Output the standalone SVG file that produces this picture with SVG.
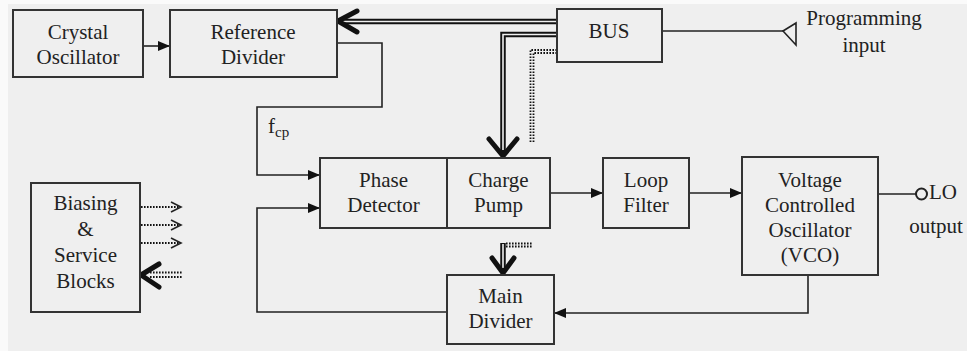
<svg xmlns="http://www.w3.org/2000/svg" width="967" height="351" viewBox="0 0 967 351" font-family="Liberation Serif, Times New Roman, serif">
<defs>
<style>
.box{fill:#efefef;stroke:#333;stroke-width:2}
.t{font-size:21px;fill:#222;text-anchor:middle}
.ln{fill:none;stroke:#222;stroke-width:1.6}
.bus{fill:none;stroke:#111;stroke-width:5.5}
.busw{fill:none;stroke:#efefef;stroke-width:1.6}
.chev{fill:none;stroke:#111;stroke-width:5;stroke-linecap:round;stroke-linejoin:round}
.dot{fill:none;stroke:#111;stroke-width:1.8;stroke-dasharray:1.6 1.4}
.open{fill:none;stroke:#222;stroke-width:1.6}
</style>
<marker id="ah" viewBox="0 0 12 10" markerUnits="userSpaceOnUse" markerWidth="12" markerHeight="10" refX="12" refY="5" orient="auto">
<path d="M0,0 L12,5 L0,10 z" fill="#111"/>
</marker>
</defs>
<rect x="0" y="0" width="967" height="351" fill="#fafafa"/>
<rect x="8" y="4" width="959" height="347" fill="#efefef"/>

<g id="connectors">
<path class="ln" d="M143,46 H170" marker-end="url(#ah)"/>
<path class="ln" d="M337,43 H382 V107 H257 V175 H320" marker-end="url(#ah)"/>
<path class="ln" d="M447,312 H257 V208 H320" marker-end="url(#ah)"/>
<path class="ln" d="M550,193 H603" marker-end="url(#ah)"/>
<path class="ln" d="M689,193 H742" marker-end="url(#ah)"/>
<path class="ln" d="M808,275 V313 H554" marker-end="url(#ah)"/>
<path class="ln" d="M878,194 H916"/>
<circle cx="921.5" cy="194" r="5.5" fill="none" stroke="#222" stroke-width="2"/>
<path class="ln" d="M662,31 H783"/>
<polygon class="open" points="796,23 783,31 796,45"/>
<path class="bus" d="M557,21.5 H340"/>
<path class="busw" d="M557,21.5 H342"/>
<polyline class="chev" points="357,11 338,21 357,32"/>
<path class="bus" d="M557,34.5 H503 V152"/>
<path class="busw" d="M557,34.5 H503 V150"/>
<polyline class="chev" points="489,139 503,156 517,139"/>
<path class="dot" d="M557,50 H530.5 V142"/>
<path class="dot" d="M557,53 H533.5 V142"/>
<path class="bus" d="M503,243 V270"/>
<path class="busw" d="M503,244 V268"/>
<path class="dot" d="M506,243.5 H533"/>
<path class="dot" d="M506,246.5 H533"/>
<polyline class="chev" points="492,258 503,273 514,258"/>
<path class="dot" d="M141,207 H180"/>
<polyline class="open" points="171,202 181,207 171,212"/>
<path class="dot" d="M141,225 H180"/>
<polyline class="open" points="171,220 181,225 171,230"/>
<path class="dot" d="M141,243 H180"/>
<polyline class="open" points="171,238 181,243 171,248"/>
<path class="dot" d="M150,272.5 H183"/>
<path class="dot" d="M150,277 H183"/>
<polyline class="chev" points="159,264 141,275 159,287"/>
</g>

<g id="crystal">
<rect class="box" x="13" y="10" width="130" height="67"/>
<text class="t" x="78" y="39">Crystal</text>
<text class="t" x="78" y="64">Oscillator</text>
</g>
<g id="refdiv">
<rect class="box" x="170" y="10" width="167" height="67"/>
<text class="t" x="253" y="39">Reference</text>
<text class="t" x="253" y="64">Divider</text>
</g>
<g id="bus">
<rect class="box" x="557" y="9" width="105" height="53"/>
<text class="t" x="609" y="38">BUS</text>
</g>
<g id="proginput">
<text class="t" x="864" y="25">Programming</text>
<text class="t" x="864" y="52">input</text>
</g>
<g id="fcp">
<text class="t" x="268" y="133" style="text-anchor:start">f<tspan font-size="15" dy="4">cp</tspan></text>
</g>
<g id="phasedet">
<rect class="box" x="320" y="158" width="127" height="70"/>
<text class="t" x="383.5" y="187">Phase</text>
<text class="t" x="383.5" y="212">Detector</text>
</g>
<g id="chargepump">
<rect class="box" x="447" y="158" width="103" height="70"/>
<text class="t" x="498.5" y="187">Charge</text>
<text class="t" x="498.5" y="212">Pump</text>
</g>
<g id="loopfilter">
<rect class="box" x="603" y="158" width="86" height="70"/>
<text class="t" x="646" y="187">Loop</text>
<text class="t" x="646" y="212">Filter</text>
</g>
<g id="vco">
<rect class="box" x="742" y="157" width="136" height="118"/>
<text class="t" x="810" y="187">Voltage</text>
<text class="t" x="810" y="212">Controlled</text>
<text class="t" x="810" y="237">Oscillator</text>
<text class="t" x="810" y="262">(VCO)</text>
</g>
<g id="lo">
<text class="t" x="929" y="199" style="text-anchor:start">LO</text>
<text class="t" x="936" y="233">output</text>
</g>
<g id="maindiv">
<rect class="box" x="447" y="275" width="107" height="69"/>
<text class="t" x="500.5" y="303">Main</text>
<text class="t" x="500.5" y="328">Divider</text>
</g>
<g id="biasing">
<rect class="box" x="31" y="183" width="109" height="129"/>
<text class="t" x="85.5" y="210">Biasing</text>
<text class="t" x="85.5" y="236">&amp;</text>
<text class="t" x="85.5" y="262">Service</text>
<text class="t" x="85.5" y="288">Blocks</text>
</g>
</svg>
